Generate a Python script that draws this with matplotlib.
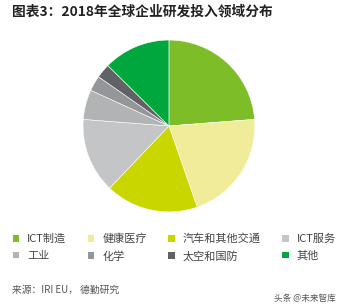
import matplotlib.pyplot as plt
from matplotlib.patches import Patch

plt.rcParams['font.family'] = ['Noto Sans CJK SC', 'DejaVu Sans']

# data (share of R&D investment, %)
sectors = ['ICT制造', '健康医疗', '汽车和其他交通', 'ICT服务', '工业', '化学', '太空和国防', '其他']
shares = [23.8, 20.9, 17.5, 14.1, 5.6, 2.9, 2.7, 12.6]
colors = ['#7dbd28', '#f0ec9a', '#c9d600', '#c4c5c7', '#b2b3b5', '#95969a', '#606266', '#00a73c']

fig = plt.figure(figsize=(3.43, 3.04), dpi=100)
fig.patch.set_facecolor('white')

ax = fig.add_axes([0.242, 0.3026, 0.501, 0.566])
wedges, _ = ax.pie(shares, colors=colors, startangle=90, counterclock=False,
                   radius=1, wedgeprops=dict(edgecolor='white', linewidth=0.4))
ax.set_xlim(-1, 1)
ax.set_ylim(-1, 1)
ax.set_aspect('equal')
ax.axis('off')

# title
fig.text(12 / 343, 1 - 11 / 304, '图表3：2018年全球企业研发投入领域分布',
         fontsize=9.9, fontweight='bold', color='#222222', va='center', ha='left')

# legend, filled row by row as in the reference
ncol = 4
order = [r * ncol + c for c in range(ncol) for r in range(2)]
handles = [Patch(facecolor=colors[i], edgecolor='none') for i in order]
labels = [sectors[i] for i in order]
fig.legend(handles, labels, ncol=ncol, loc='upper left',
           bbox_to_anchor=(7 / 343, 1 - 228 / 304), frameon=False,
           fontsize=8.0, handlelength=0.55, handleheight=0.55, handletextpad=0.75,
           columnspacing=1.95, labelspacing=0.6, borderpad=0, labelcolor='#444444')

# source and watermark
fig.text(12 / 343, 1 - 290 / 304, '来源：IRI EU， 德勤研究', fontsize=7,
         color='#555555', va='center', ha='left')
fig.text(336 / 343, 1 - 298 / 304, '头条 @未来智库', fontsize=6.2,
         color='#555555', va='center', ha='right')

fig.savefig('out.png', dpi=100)
